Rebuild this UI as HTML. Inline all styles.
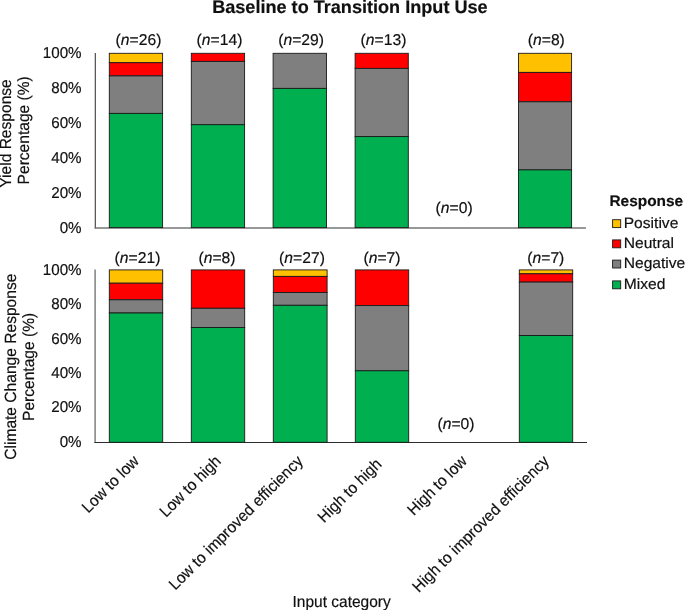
<!DOCTYPE html>
<html><head><meta charset="utf-8"><title>Baseline to Transition Input Use</title>
<style>html,body{margin:0;padding:0;background:#fff;}body{width:685px;height:610px;overflow:hidden;}svg{display:block;will-change:transform;}text{font-family:"Liberation Sans",sans-serif;fill:#101010;stroke:#101010;stroke-width:0.18px;text-rendering:geometricPrecision;}</style></head><body>
<svg width="685" height="610" viewBox="0 0 685 610">
<rect x="0" y="0" width="685" height="610" fill="#ffffff"/>
<text x="349.9" y="12.7" text-anchor="middle" font-size="18.1" font-weight="bold" fill="#111">Baseline to Transition Input Use</text>
<line x1="95.35" y1="53.00" x2="95.35" y2="228.60" stroke="#5a5a5a" stroke-width="1.3"/>
<line x1="94.7" y1="227.95" x2="585.9" y2="227.95" stroke="#767676" stroke-width="1.6"/>
<text transform="translate(81.6,58.00) scale(0.96,1)" text-anchor="end" font-size="15.8">100%</text>
<text transform="translate(81.6,92.92) scale(0.96,1)" text-anchor="end" font-size="15.8">80%</text>
<text transform="translate(81.6,127.84) scale(0.96,1)" text-anchor="end" font-size="15.8">60%</text>
<text transform="translate(81.6,162.76) scale(0.96,1)" text-anchor="end" font-size="15.8">40%</text>
<text transform="translate(81.6,197.68) scale(0.96,1)" text-anchor="end" font-size="15.8">20%</text>
<text transform="translate(81.6,232.60) scale(0.96,1)" text-anchor="end" font-size="15.8">0%</text>
<line x1="95.1" y1="269.55" x2="95.1" y2="442.70" stroke="#777777" stroke-width="1.4"/>
<line x1="94.4" y1="442.45" x2="587.0" y2="442.45" stroke="#2c2c2c" stroke-width="1.05"/>
<text transform="translate(81.6,274.90) scale(0.96,1)" text-anchor="end" font-size="15.8">100%</text>
<text transform="translate(81.6,309.28) scale(0.96,1)" text-anchor="end" font-size="15.8">80%</text>
<text transform="translate(81.6,343.66) scale(0.96,1)" text-anchor="end" font-size="15.8">60%</text>
<text transform="translate(81.6,378.04) scale(0.96,1)" text-anchor="end" font-size="15.8">40%</text>
<text transform="translate(81.6,412.42) scale(0.96,1)" text-anchor="end" font-size="15.8">20%</text>
<text transform="translate(81.6,446.80) scale(0.96,1)" text-anchor="end" font-size="15.8">0%</text>
<rect x="109.3" y="53.3" width="53.3" height="9.4" fill="#FFC000" stroke="#1a1a1a" stroke-width="0.9"/>
<rect x="109.3" y="62.7" width="53.3" height="13.2" fill="#FF0000" stroke="#1a1a1a" stroke-width="0.9"/>
<rect x="109.3" y="75.9" width="53.3" height="37.5" fill="#7F7F7F" stroke="#1a1a1a" stroke-width="0.9"/>
<rect x="109.3" y="113.4" width="53.3" height="114.2" fill="#00B050" stroke="#1a1a1a" stroke-width="0.9"/>
<text x="138.5" y="45.3" text-anchor="middle" font-size="15.7">(<tspan font-style="italic">n</tspan>=26)</text>
<rect x="191.3" y="53.3" width="53.3" height="8.1" fill="#FF0000" stroke="#1a1a1a" stroke-width="0.9"/>
<rect x="191.3" y="61.4" width="53.3" height="63.3" fill="#7F7F7F" stroke="#1a1a1a" stroke-width="0.9"/>
<rect x="191.3" y="124.7" width="53.3" height="102.9" fill="#00B050" stroke="#1a1a1a" stroke-width="0.9"/>
<text x="219.5" y="45.3" text-anchor="middle" font-size="15.7">(<tspan font-style="italic">n</tspan>=14)</text>
<rect x="273.1" y="53.3" width="53.4" height="35.1" fill="#7F7F7F" stroke="#1a1a1a" stroke-width="0.9"/>
<rect x="273.1" y="88.4" width="53.4" height="139.2" fill="#00B050" stroke="#1a1a1a" stroke-width="0.9"/>
<text x="301.1" y="45.3" text-anchor="middle" font-size="15.7">(<tspan font-style="italic">n</tspan>=29)</text>
<rect x="355.1" y="53.3" width="53.2" height="15.1" fill="#FF0000" stroke="#1a1a1a" stroke-width="0.9"/>
<rect x="355.1" y="68.4" width="53.2" height="68.2" fill="#7F7F7F" stroke="#1a1a1a" stroke-width="0.9"/>
<rect x="355.1" y="136.6" width="53.2" height="91.0" fill="#00B050" stroke="#1a1a1a" stroke-width="0.9"/>
<text x="383.5" y="45.3" text-anchor="middle" font-size="15.7">(<tspan font-style="italic">n</tspan>=13)</text>
<text x="454.1" y="213" text-anchor="middle" font-size="15.7">(<tspan font-style="italic">n</tspan>=0)</text>
<rect x="518.5" y="53.3" width="53.1" height="19.1" fill="#FFC000" stroke="#1a1a1a" stroke-width="0.9"/>
<rect x="518.5" y="72.4" width="53.1" height="29.4" fill="#FF0000" stroke="#1a1a1a" stroke-width="0.9"/>
<rect x="518.5" y="101.8" width="53.1" height="68.1" fill="#7F7F7F" stroke="#1a1a1a" stroke-width="0.9"/>
<rect x="518.5" y="169.9" width="53.1" height="57.7" fill="#00B050" stroke="#1a1a1a" stroke-width="0.9"/>
<text x="546.3" y="45.3" text-anchor="middle" font-size="15.7">(<tspan font-style="italic">n</tspan>=8)</text>
<rect x="109.3" y="269.9" width="53.4" height="13.3" fill="#FFC000" stroke="#1a1a1a" stroke-width="0.9"/>
<rect x="109.3" y="283.2" width="53.4" height="16.6" fill="#FF0000" stroke="#1a1a1a" stroke-width="0.9"/>
<rect x="109.3" y="299.8" width="53.4" height="13.2" fill="#7F7F7F" stroke="#1a1a1a" stroke-width="0.9"/>
<rect x="109.3" y="313.0" width="53.4" height="129.3" fill="#00B050" stroke="#1a1a1a" stroke-width="0.9"/>
<text x="137.5" y="262.8" text-anchor="middle" font-size="15.7">(<tspan font-style="italic">n</tspan>=21)</text>
<rect x="191.3" y="269.9" width="53.4" height="38.4" fill="#FF0000" stroke="#1a1a1a" stroke-width="0.9"/>
<rect x="191.3" y="308.3" width="53.4" height="19.2" fill="#7F7F7F" stroke="#1a1a1a" stroke-width="0.9"/>
<rect x="191.3" y="327.5" width="53.4" height="114.8" fill="#00B050" stroke="#1a1a1a" stroke-width="0.9"/>
<text x="217.0" y="262.8" text-anchor="middle" font-size="15.7">(<tspan font-style="italic">n</tspan>=8)</text>
<rect x="273.3" y="269.9" width="53.8" height="6.5" fill="#FFC000" stroke="#1a1a1a" stroke-width="0.9"/>
<rect x="273.3" y="276.4" width="53.8" height="16.1" fill="#FF0000" stroke="#1a1a1a" stroke-width="0.9"/>
<rect x="273.3" y="292.5" width="53.8" height="12.8" fill="#7F7F7F" stroke="#1a1a1a" stroke-width="0.9"/>
<rect x="273.3" y="305.3" width="53.8" height="137.0" fill="#00B050" stroke="#1a1a1a" stroke-width="0.9"/>
<text x="302.0" y="262.8" text-anchor="middle" font-size="15.7">(<tspan font-style="italic">n</tspan>=27)</text>
<rect x="355.3" y="269.9" width="53.4" height="35.8" fill="#FF0000" stroke="#1a1a1a" stroke-width="0.9"/>
<rect x="355.3" y="305.6" width="53.4" height="65.2" fill="#7F7F7F" stroke="#1a1a1a" stroke-width="0.9"/>
<rect x="355.3" y="370.8" width="53.4" height="71.5" fill="#00B050" stroke="#1a1a1a" stroke-width="0.9"/>
<text x="382.0" y="262.8" text-anchor="middle" font-size="15.7">(<tspan font-style="italic">n</tspan>=7)</text>
<text x="456.0" y="429.2" text-anchor="middle" font-size="15.7">(<tspan font-style="italic">n</tspan>=0)</text>
<rect x="519.3" y="269.9" width="53.4" height="3.9" fill="#FFC000" stroke="#1a1a1a" stroke-width="0.9"/>
<rect x="519.3" y="273.8" width="53.4" height="8.3" fill="#FF0000" stroke="#1a1a1a" stroke-width="0.9"/>
<rect x="519.3" y="282.1" width="53.4" height="53.4" fill="#7F7F7F" stroke="#1a1a1a" stroke-width="0.9"/>
<rect x="519.3" y="335.5" width="53.4" height="106.8" fill="#00B050" stroke="#1a1a1a" stroke-width="0.9"/>
<text x="545.8" y="262.8" text-anchor="middle" font-size="15.7">(<tspan font-style="italic">n</tspan>=7)</text>
<text transform="translate(11.1,133.5) rotate(-90) scale(0.962,1)" text-anchor="middle" font-size="16.2">Yield Response</text>
<text transform="translate(29.2,130.3) rotate(-90) scale(0.962,1)" text-anchor="middle" font-size="16.2">Percentage (%)</text>
<text transform="translate(16.2,366.7) rotate(-90) scale(0.962,1)" text-anchor="middle" font-size="16.2">Climate Change Response</text>
<text transform="translate(34.1,366.9) rotate(-90) scale(0.962,1)" text-anchor="middle" font-size="16.2">Percentage (%)</text>
<text transform="translate(139.9,462.1) rotate(-45) scale(0.965,1)" text-anchor="end" font-size="16.05">Low to low</text>
<text transform="translate(221.9,462.1) rotate(-45) scale(0.965,1)" text-anchor="end" font-size="16.05">Low to high</text>
<text transform="translate(303.9,462.1) rotate(-45) scale(0.965,1)" text-anchor="end" font-size="16.05">Low to improved efficiency</text>
<text transform="translate(382.5,465.1) rotate(-45) scale(0.965,1)" text-anchor="end" font-size="16.05">High to high</text>
<text transform="translate(467.9,462.1) rotate(-45) scale(0.965,1)" text-anchor="end" font-size="16.05">High to low</text>
<text transform="translate(549.9,462.1) rotate(-45) scale(0.965,1)" text-anchor="end" font-size="16.05">High to improved efficiency</text>
<text transform="translate(341.6,606.8) scale(0.968,1)" text-anchor="middle" font-size="16">Input category</text>
<text transform="translate(609.4,205.5) scale(1.02,1)" font-size="15.15" font-weight="bold" fill="#111">Response</text>
<rect x="612.6" y="219.7" width="8.1" height="7.9" fill="#FFC000" stroke="#1a1a1a" stroke-width="0.9"/>
<text transform="translate(623.7,227.5) scale(1.04,1)" font-size="15.0">Positive</text>
<rect x="612.6" y="239.9" width="8.1" height="7.9" fill="#FF0000" stroke="#1a1a1a" stroke-width="0.9"/>
<text transform="translate(623.7,247.7) scale(1.04,1)" font-size="15.0">Neutral</text>
<rect x="612.6" y="260.1" width="8.1" height="7.9" fill="#7F7F7F" stroke="#1a1a1a" stroke-width="0.9"/>
<text transform="translate(623.7,267.9) scale(1.04,1)" font-size="15.0">Negative</text>
<rect x="612.6" y="280.9" width="8.1" height="7.9" fill="#00B050" stroke="#1a1a1a" stroke-width="0.9"/>
<text transform="translate(623.7,288.7) scale(1.04,1)" font-size="15.0">Mixed</text>
</svg></body></html>
